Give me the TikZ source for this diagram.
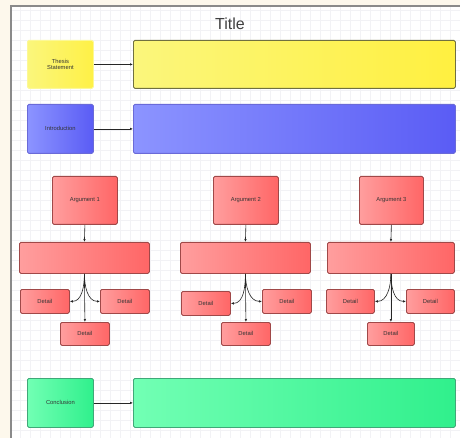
\documentclass[tikz,border=0pt]{standalone}
\usepackage{fontspec}
\setmainfont{Liberation Sans}
\usetikzlibrary{arrows.meta}
\definecolor{cream}{HTML}{FDF8EC}
\definecolor{gridc}{HTML}{F2F2F5}
\definecolor{frame}{HTML}{8A8A8A}
\definecolor{redL}{HTML}{FF9E9E}
\definecolor{redR}{HTML}{FF6666}
\definecolor{redB}{HTML}{A04848}
\definecolor{yelL}{HTML}{FBF67C}
\definecolor{yelR}{HTML}{FFF040}
\definecolor{yelB}{HTML}{707040}
\definecolor{bluL}{HTML}{8C94FF}
\definecolor{bluR}{HTML}{5A5CF5}
\definecolor{bluB}{HTML}{6A6AD8}
\definecolor{grnL}{HTML}{72FFB4}
\definecolor{grnR}{HTML}{30F08C}
\definecolor{grnB}{HTML}{40A878}
\tikzset{
  x=1pt, y=-1pt,
  box/.style={rounded corners=1.5pt, line width=0.8pt, shading=axis, shading angle=90,
    font=\fontsize{5.8}{6.6}\selectfont, text=black!80, align=center, inner sep=0pt},
  redbox/.style={box, draw=redB, left color=redL, right color=redR},
  yelbox/.style={box, draw=yelB, left color=yelL, right color=yelR},
  yelsmall/.style={box, draw=yelL!80!white, left color=yelL, right color=yelR!90!yelL},
  blubox/.style={box, draw=bluB, left color=bluL, right color=bluR},
  grnbox/.style={box, draw=grnB, left color=grnL, right color=grnR},
  conn/.style={draw=black!85, line width=0.6pt, -{Latex[length=3pt,width=2.5pt]}},
}
\newcommand{\rbox}[6]{\node[#1, minimum width=#4pt, minimum height=#5pt, anchor=north west] (#2) at #3 {#6};}
\begin{document}
\begin{tikzpicture}
\useasboundingbox (0,0) rectangle (460,438);
\fill[cream] (0,0) rectangle (460,438);
\fill[white] (11,6) rectangle (460,438);
\draw[gridc, line width=0.4pt] (11,6) grid[step=10pt] (460,438);
\draw[frame, line width=1.2pt] (11,438) -- (11,6) -- (460,6);
\node[font=\fontsize{16}{18}\selectfont, text=black!75] (title) at (230,24) {Title};
% rows
\rbox{yelsmall}{thesis}{(27,40)}{66}{48}{Thesis\\Statement}
\rbox{yelbox}{thesisbig}{(133,40)}{322}{48}{}
\rbox{blubox}{intro}{(27,104)}{66}{49}{Introduction}
\rbox{blubox}{introbig}{(133,104)}{322}{49}{}
\rbox{grnbox}{concl}{(27,378)}{66}{49}{Conclusion}
\rbox{grnbox}{conclbig}{(133,378)}{322}{49}{}
\draw[conn] (thesis) -- (thesisbig);
\draw[conn] (intro) -- (introbig);
\draw[conn] (concl) -- (conclbig);
% argument 1
\rbox{redbox}{a1}{(52,176)}{65}{48}{Argument 1}
\rbox{redbox}{w1}{(19,242)}{130}{31}{}
\rbox{redbox}{l1}{(20,289)}{49}{24}{Detail}
\rbox{redbox}{r1}{(100,289)}{49}{24}{Detail}
\rbox{redbox}{b1}{(60,322)}{49}{23}{Detail}
% argument 2
\rbox{redbox}{a2}{(213,176)}{65}{48}{Argument 2}
\rbox{redbox}{w2}{(180,242)}{130}{31}{}
\rbox{redbox}{l2}{(181,291)}{49}{24}{Detail}
\rbox{redbox}{r2}{(262,289)}{49}{24}{Detail}
\rbox{redbox}{b2}{(221,322)}{49}{23}{Detail}
% argument 3
\rbox{redbox}{a3}{(359,176)}{64}{48}{Argument 3}
\rbox{redbox}{w3}{(327,242)}{127}{31}{}
\rbox{redbox}{l3}{(326,289)}{48}{24}{Detail}
\rbox{redbox}{r3}{(406,289)}{48}{24}{Detail}
\rbox{redbox}{b3}{(367,322)}{47}{23}{Detail}
\foreach \i in {1,2,3}{
  \draw[conn] (a\i.south) -- (w\i.north);
  \draw[conn] (w\i.south) -- (b\i.north);
  \draw[conn] (w\i.south) to[out=-90,in=0] (l\i.east);
  \draw[conn] (w\i.south) to[out=-90,in=180] (r\i.west);
}
\end{tikzpicture}
\end{document}
